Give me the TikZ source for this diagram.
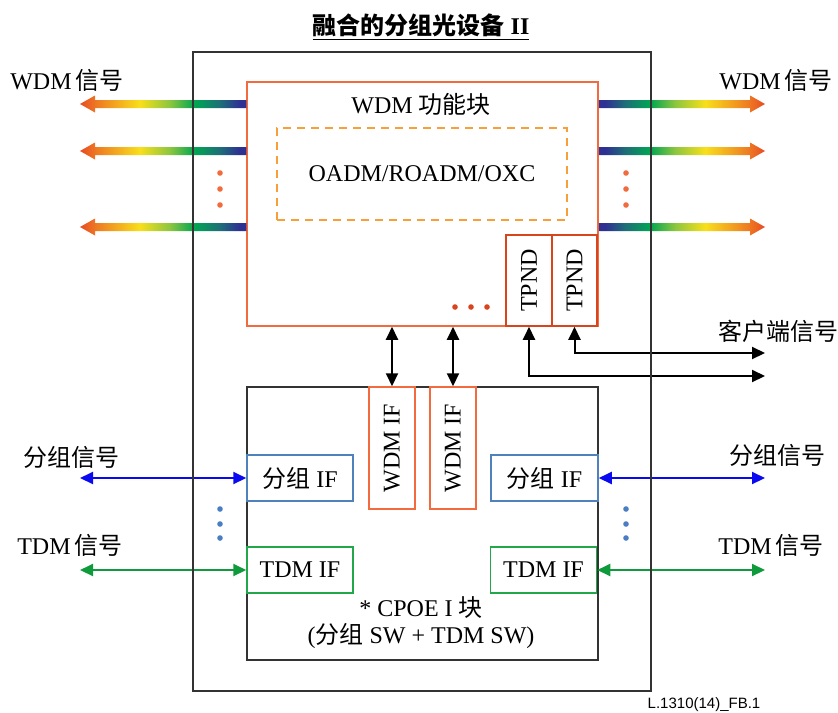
\documentclass[tikz,border=0pt]{standalone}
\usepackage{fontspec}
\setmainfont{Liberation Serif}
\newfontfamily\cjk{Noto Sans CJK SC}
\newfontfamily\idfont{Liberation Sans}
\usepackage{graphicx}
\usetikzlibrary{arrows.meta,calc}
\definecolor{FBRed}   {HTML}{F26A3E}
\definecolor{FBDark}  {HTML}{D8441C}
\definecolor{FBAmber} {HTML}{F7A03A}
\definecolor{FBBlue}  {HTML}{4F81BD}
\definecolor{FBPkt}   {HTML}{0A0AF0}
\definecolor{FBGreen} {HTML}{22A84A}
\definecolor{FBTdm}   {HTML}{0F9A3C}
\definecolor{FBDot}   {HTML}{4A7EC2}
\definecolor{FBFrame} {HTML}{333333}
\definecolor{RbTip}   {HTML}{E84A24}
\definecolor{RbOrange}{HTML}{EE7B22}
\definecolor{RbYellow}{HTML}{F8DF1B}
\definecolor{RbLime}  {HTML}{8DC63F}
\definecolor{RbGreen} {HTML}{00A651}
\definecolor{RbTeal}  {HTML}{1D6F78}
\definecolor{RbNavy}  {HTML}{2E3192}
\pgfdeclarehorizontalshading{rbleft}{100bp}{color(0bp)=(RbTip); color(25bp)=(RbTip);
  color(30bp)=(RbOrange); color(43bp)=(RbYellow); color(52bp)=(RbLime);
  color(59.5bp)=(RbGreen); color(67bp)=(RbTeal); color(73bp)=(RbNavy); color(100bp)=(RbNavy)}
\pgfdeclarehorizontalshading{rbright}{100bp}{color(0bp)=(RbNavy); color(27bp)=(RbNavy);
  color(33bp)=(RbTeal); color(40.5bp)=(RbGreen); color(48bp)=(RbLime);
  color(57bp)=(RbYellow); color(70bp)=(RbOrange); color(75bp)=(RbTip); color(100bp)=(RbTip)}
% rainbow arrow: box side, tip, +1 (points left) or -1 (points right), shading
\newcommand\rbarrow[4]{%
  \shade[shading=#4] ($(#1)+(0,-4)$) -- ($(#2)+(#3*15,-4)$) -- ($(#2)+(#3*15,-8.5)$) -- (#2)
    -- ($(#2)+(#3*15,8.5)$) -- ($(#2)+(#3*15,4)$) -- ($(#1)+(0,4)$) -- cycle;}

\begin{document}
\begin{tikzpicture}[x=0.5pt,y=-0.5pt,
    txt/.style={font=\fontsize{12}{13.5}\selectfont,inner sep=0pt,align=center},
    box/.style={draw,line width=0.75pt,inner sep=0pt,font=\fontsize{12}{13.5}\selectfont},
    wdmbox/.style={box,draw=FBRed},
    tpbox/.style={box,draw=FBDark,minimum width=23pt,minimum height=45.5pt},
    wifbox/.style={box,draw=FBRed,minimum width=23pt,minimum height=61pt},
    pktbox/.style={box,draw=FBBlue,minimum width=53pt,minimum height=23pt},
    tdmbox/.style={box,draw=FBGreen,minimum width=53pt,minimum height=23pt},
    dbl/.style={{Triangle[length=6.5pt,width=6pt]}-{Triangle[length=6.5pt,width=6pt]},line width=1pt},
    pktarr/.style={dbl,FBPkt},
    tdmarr/.style={dbl,FBTdm}
  ]
    \useasboundingbox (0,0) rectangle (838,712);
    \node[txt,font=\fontsize{12}{13.5}\selectfont\bfseries](ttl) at (421,27)
      {\underline{{\cjk 融合的分组光设备} II}};
    % WDM part
    \node[wdmbox,minimum width=175.5pt,minimum height=122pt](wdm) at (422.5,204) {};
    \node[txt](wdmlbl) at (421,104) {WDM {\cjk 功能块}};
    \node[box,draw=FBAmber,dashed,dash pattern=on 4pt off 3pt,minimum width=145pt,minimum height=46pt](oadm)
      at (422,174) {OADM/ROADM/OXC};
    \node[tpbox](tp1) at (529,280.5) {\rotatebox{90}{TPND}};
    \node[tpbox,minimum width=22.5pt](tp2) at (574.5,280.5) {\rotatebox{90}{TPND}};
    \foreach \x in {455,471,487}
      \fill[FBDark] (\x,307) circle (2.8);
    % CPOE part
    \node[box,draw=FBFrame,minimum width=175.5pt,minimum height=136.5pt](cpoe) at (422.5,523.5) {};
    \node[wifbox](wif1) at (392,448) {\rotatebox{90}{WDM IF}};
    \node[wifbox](wif2) at (453,448) {\rotatebox{90}{WDM IF}};
    \node[pktbox](pif1) at (300,478) {{\cjk 分组} IF};
    \node[pktbox,minimum width=53.5pt](pif2) at (544.5,478) {{\cjk 分组} IF};
    \node[tdmbox](tif1) at (300,570) {TDM IF};
    \node[tdmbox](tif2) at (543.5,570) {TDM IF};
    \node[txt](cpoelbl) at (421,623) {* CPOE I {\cjk 块}\\({\cjk 分组} SW + TDM SW)};
    % signal labels
    \node[txt](sigw1) at (67,80)  {WDM\,{\cjk 信号}};
    \node[txt](sigw2) at (776,80) {WDM\,{\cjk 信号}};
    \node[txt](cli)   at (778,331) {\cjk 客户端信号};
    \node[txt](sigp1) at (71,457)  {\cjk 分组信号};
    \node[txt](sigp2) at (777,455) {\cjk 分组信号};
    \node[txt](sigt1) at (70,545)  {TDM\,{\cjk 信号}};
    \node[txt](sigt2) at (771,545) {TDM\,{\cjk 信号}};
    % arrow ends
    \coordinate (wl1) at (80,104);  \coordinate (wr1) at (765,104);
    \coordinate (wl2) at (80,151);  \coordinate (wr2) at (765,151);
    \coordinate (wl3) at (80,227);  \coordinate (wr3) at (765,227);
    \coordinate (cl1) at (765,353); \coordinate (cl2) at (765,376);
    \coordinate (pl) at (80,478);   \coordinate (pr) at (765,478);
    \coordinate (tl) at (80,570);   \coordinate (tr) at (765,570);
    \foreach \n in {1,2,3}{
      \rbarrow{wdm.west |- wl\n}{wl\n}{1}{rbleft}
      \rbarrow{wdm.east |- wr\n}{wr\n}{-1}{rbright}
    }
    \foreach \y in {173,189,205}{
      \fill[FBRed] (220,\y) circle (2.8);
      \fill[FBRed] (626,\y) circle (2.8);
    }
    \foreach \y in {509,524,538}{
      \fill[FBDot] (220,\y) circle (2.8);
      \fill[FBDot] (626,\y) circle (2.8);
    }
    \draw[dbl] (wdm.south -| wif1) -- (wif1.north);
    \draw[dbl] (wdm.south -| wif2) -- (wif2.north);
    \draw[dbl] (tp1.south) |- (cl2);
    \draw[dbl] (tp2.south) |- (cl1);
    \draw[pktarr] (pl) -- (pif1.west);
    \draw[pktarr] (pif2.east) -- (pr);
    \draw[tdmarr] (tl) -- (tif1.west);
    \draw[tdmarr] (tif2.east) -- (tr);
    % device frame
    \node[draw=FBFrame,line width=1pt,minimum width=229pt,minimum height=319.5pt](dev) at (422,371.5) {};
    \node[font=\idfont\fontsize{7.5}{9}\selectfont,inner sep=0pt](figid) at (704,705) {L.1310(14)\_FB.1};
  \end{tikzpicture}
\end{document}
